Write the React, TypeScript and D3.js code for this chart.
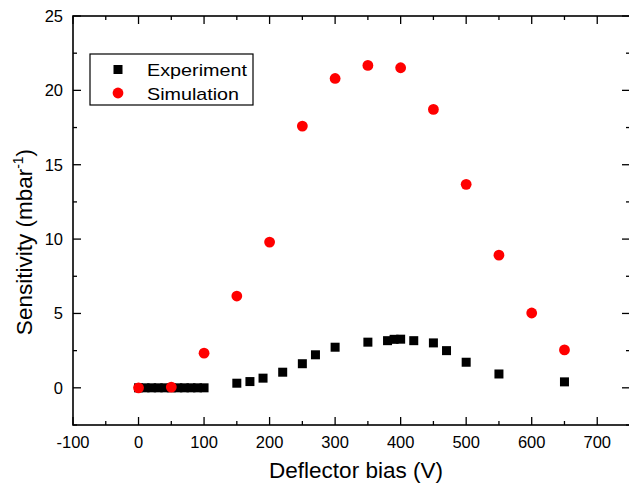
import React from "react";
import * as d3 from "d3";

const expX = [0, 10, 20, 30, 40, 50, 60, 70, 80, 90, 100, 150, 170, 190, 220, 250, 270, 300, 350, 380, 390, 400, 420, 450, 470, 500, 550, 650];
const expY = [0, 0, 0, 0, 0, 0, 0, 0, 0, 0, 0, 0.31, 0.42, 0.65, 1.05, 1.62, 2.22, 2.73, 3.07, 3.17, 3.26, 3.27, 3.17, 3.02, 2.5, 1.72, 0.93, 0.4];
const simX = [0, 50, 100, 150, 200, 250, 300, 350, 400, 450, 500, 550, 600, 650];
const simY = [0, 0.05, 2.33, 6.17, 9.8, 17.6, 20.8, 21.68, 21.52, 18.72, 13.68, 8.92, 5.03, 2.55];
const xTicks = [-100, 0, 100, 200, 300, 400, 500, 600, 700];
const yTicks = [0, 5, 10, 15, 20, 25];

const W = 629, H = 485;
const L = 73, R = 630, T = 16, B = 425;
const font = "Liberation Sans, Arial, sans-serif";

export default function App() {
  const x = d3.scaleLinear().domain([-100, 750]).range([L, R]);
  const y = d3.scaleLinear().domain([-2.5, 25]).range([B, T]);
  const xMinor = d3.range(-50, 750, 100);
  const yMinor = d3.range(-2.5, 25, 5);
  const sq = 9;
  const cr = 5.4;
  return (
    <svg width={W} height={H} style={{ position: "absolute", left: 0, top: 0, fontFamily: font }}>
      <rect x={0} y={0} width={W} height={H} fill="#fff" />
      {xTicks.map((t) => (
        <g key={"xt" + t}>
          <line x1={x(t)} x2={x(t)} y1={B} y2={B - 8} stroke="#000" strokeWidth={1.3} />
          <line x1={x(t)} x2={x(t)} y1={T} y2={T + 8} stroke="#000" strokeWidth={1.3} />
          <text x={x(t)} y={448} textAnchor="middle" fontSize={16.5} fill="#000">{t}</text>
        </g>
      ))}
      {xMinor.map((t) => (
        <g key={"xm" + t}>
          <line x1={x(t)} x2={x(t)} y1={B} y2={B - 4} stroke="#000" strokeWidth={1.3} />
          <line x1={x(t)} x2={x(t)} y1={T} y2={T + 4} stroke="#000" strokeWidth={1.3} />
        </g>
      ))}
      {yTicks.map((t) => (
        <g key={"yt" + t}>
          <line x1={L} x2={L + 8} y1={y(t)} y2={y(t)} stroke="#000" strokeWidth={1.3} />
          <line x1={R} x2={R - 8} y1={y(t)} y2={y(t)} stroke="#000" strokeWidth={1.3} />
          <text x={63} y={y(t) + 6} textAnchor="end" fontSize={16.5} fill="#000">{t}</text>
        </g>
      ))}
      {yMinor.map((t) => (
        <g key={"ym" + t}>
          <line x1={L} x2={L + 4} y1={y(t)} y2={y(t)} stroke="#000" strokeWidth={1.3} />
          <line x1={R} x2={R - 4} y1={y(t)} y2={y(t)} stroke="#000" strokeWidth={1.3} />
        </g>
      ))}
      <rect x={L} y={T} width={R - L} height={B - T} fill="none" stroke="#000" strokeWidth={1.6} />
      {expX.map((v, i) => (
        <rect key={"e" + i} x={x(v) - sq / 2} y={y(expY[i]) - sq / 2} width={sq} height={sq} fill="#000" />
      ))}
      {simX.map((v, i) => (
        <circle key={"s" + i} cx={x(v)} cy={y(simY[i])} r={cr} fill="#ff0000" />
      ))}
      <rect x={90} y={54} width={163} height={51} fill="#fff" stroke="#000" strokeWidth={1.2} />
      <rect x={118 - sq / 2} y={69.5 - sq / 2} width={sq} height={sq} fill="#000" />
      <text x={147} y={76} fontSize={17} textLength={100} lengthAdjust="spacingAndGlyphs" fill="#000">Experiment</text>
      <circle cx={118} cy={93} r={cr} fill="#ff0000" />
      <text x={147} y={99.5} fontSize={17} textLength={92} lengthAdjust="spacingAndGlyphs" fill="#000">Simulation</text>
      <text x={356} y={478} textAnchor="middle" fontSize={22.5} fill="#000">Deflector bias (V)</text>
      <text transform={`translate(32,242) rotate(-90)`} textAnchor="middle" fontSize={22.5} fill="#000">
        Sensitivity (mbar<tspan dy={-9} fontSize={14}>-1</tspan><tspan dy={9}>)</tspan>
      </text>
    </svg>
  );
}
